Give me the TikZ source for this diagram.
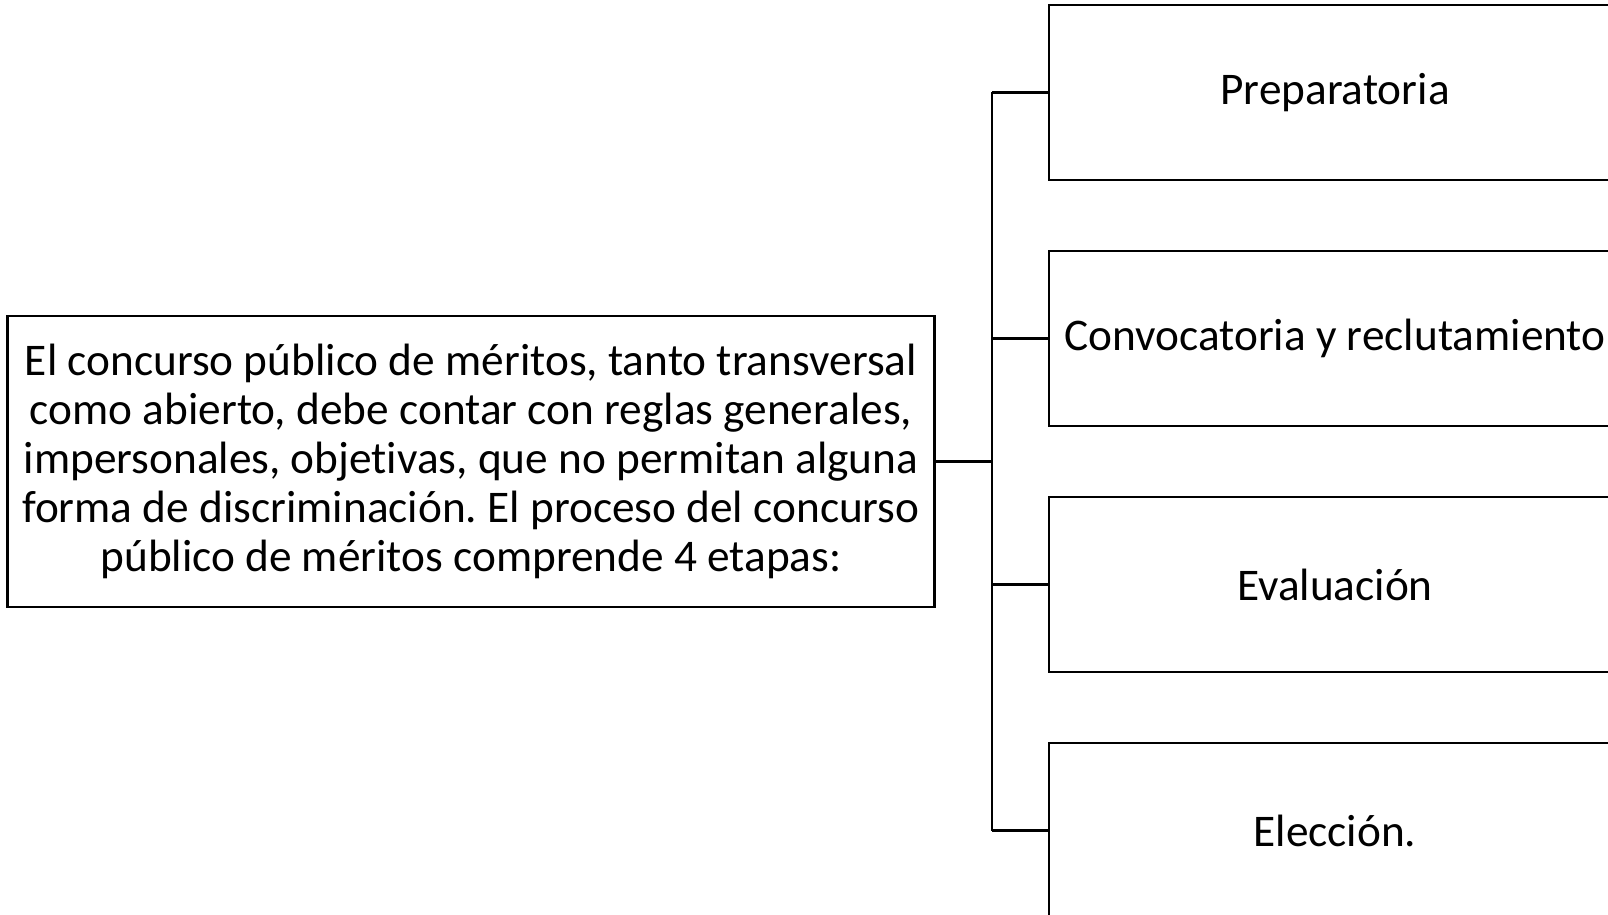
\documentclass[tikz,border=0pt]{standalone}
\usepackage{fontspec}
\setmainfont{Carlito}[Ligatures=NoCommon]
\tikzset{
  box/.style={draw, line width=2.2pt, align=center, inner sep=0pt},
  stage/.style={box, minimum width=572pt, minimum height=175pt},
  link/.style={line width=2.2pt}
}
\begin{document}
\frenchspacing
\begin{tikzpicture}[x=1pt, y=-1pt, font=\fontsize{45.3}{48.9}\selectfont]
  \clip (0,0) rectangle (1608,915);
  \fill[white] (0,0) rectangle (1608,915);
  \draw
    (471,461.5) node[box, minimum width=927pt, minimum height=291pt] (intro)
      {El concurso público de méritos, tanto transversal\\
       como abierto, debe contar con reglas generales,\\
       impersonales, objetivas, que no permitan alguna\\
       forma de discriminación. El proceso del concurso\\
       público de méritos comprende 4 etapas:};
  \draw
    (1335,92.5) node[stage] (s1){Preparatoria}
    (1335,338.5) node[stage] (s2){Convocatoria y reclutamiento}
    (1335,584.5) node[stage] (s3){Evaluación}
    (1335,830.5) node[stage] (s4){Elección.};
  \coordinate (hub) at (992,461.5);
  \begin{scope}[link]
    \draw (intro.east) to (hub);
    \draw (hub |- s1.west) to (hub |- s4.west);
    \draw (hub |- s1.west) to (s1.west);
    \draw (hub |- s2.west) to (s2.west);
    \draw (hub |- s3.west) to (s3.west);
    \draw (hub |- s4.west) to (s4.west);
  \end{scope}
\end{tikzpicture}
\end{document}
